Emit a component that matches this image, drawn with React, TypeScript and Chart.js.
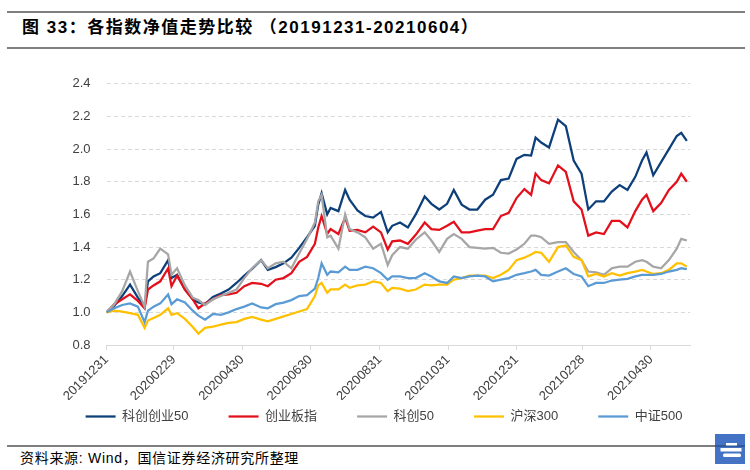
import React, { useEffect, useRef } from "react";
import { Chart, registerables } from "chart.js";

Chart.register(...registerables);

// Day offsets from 2019-12-31
const days = [0, 7, 14, 21, 28, 34, 37, 42, 48, 55, 58, 63, 70, 77, 82, 88, 95, 102, 109, 116, 123, 130, 138, 144, 151, 158, 165, 172, 179, 186, 189, 192, 197, 200, 207, 213, 217, 224, 231, 238, 245, 251, 255, 262, 269, 276, 284, 290, 297, 304, 310, 317, 324, 331, 338, 345, 352, 359, 366, 373, 379, 383, 388, 395, 403, 410, 417, 424, 430, 437, 444, 451, 458, 465, 472, 478, 482, 488, 495, 502, 509, 513, 518];

const kcCy50 = [1.00, 1.04, 1.10, 1.17, 1.09, 1.035, 1.19, 1.22, 1.24, 1.32, 1.21, 1.23, 1.14, 1.08, 1.06, 1.05, 1.095, 1.115, 1.14, 1.18, 1.225, 1.266, 1.32, 1.26, 1.277, 1.30, 1.335, 1.395, 1.46, 1.53, 1.66, 1.73, 1.60, 1.64, 1.62, 1.75, 1.69, 1.625, 1.59, 1.58, 1.615, 1.49, 1.53, 1.55, 1.52, 1.60, 1.71, 1.665, 1.63, 1.665, 1.75, 1.66, 1.63, 1.63, 1.69, 1.72, 1.81, 1.82, 1.94, 1.965, 1.96, 2.07, 2.04, 2.01, 2.18, 2.14, 1.93, 1.85, 1.63, 1.68, 1.68, 1.74, 1.78, 1.75, 1.83, 1.93, 1.98, 1.84, 1.92, 2.00, 2.08, 2.10, 2.05];

const cybz = [1.00, 1.05, 1.08, 1.11, 1.07, 1.025, 1.14, 1.165, 1.19, 1.27, 1.16, 1.225, 1.14, 1.08, 1.025, 1.055, 1.08, 1.105, 1.11, 1.12, 1.16, 1.18, 1.175, 1.16, 1.20, 1.21, 1.24, 1.31, 1.34, 1.42, 1.52, 1.59, 1.48, 1.51, 1.48, 1.58, 1.50, 1.505, 1.49, 1.525, 1.49, 1.385, 1.435, 1.44, 1.42, 1.475, 1.55, 1.51, 1.505, 1.53, 1.555, 1.49, 1.49, 1.50, 1.51, 1.51, 1.59, 1.61, 1.70, 1.755, 1.72, 1.85, 1.81, 1.79, 1.90, 1.86, 1.68, 1.63, 1.47, 1.49, 1.48, 1.56, 1.56, 1.52, 1.62, 1.69, 1.72, 1.62, 1.67, 1.75, 1.80, 1.85, 1.80];

const kc50 = [1.00, 1.05, 1.13, 1.25, 1.13, 1.035, 1.31, 1.33, 1.39, 1.355, 1.23, 1.27, 1.165, 1.09, 1.075, 1.045, 1.08, 1.10, 1.12, 1.14, 1.21, 1.27, 1.32, 1.27, 1.30, 1.31, 1.27, 1.36, 1.45, 1.55, 1.68, 1.72, 1.46, 1.47, 1.39, 1.60, 1.51, 1.49, 1.46, 1.39, 1.42, 1.29, 1.35, 1.40, 1.39, 1.445, 1.49, 1.44, 1.37, 1.45, 1.48, 1.45, 1.40, 1.395, 1.39, 1.395, 1.365, 1.36, 1.385, 1.42, 1.47, 1.47, 1.46, 1.42, 1.43, 1.43, 1.37, 1.32, 1.25, 1.245, 1.23, 1.27, 1.28, 1.28, 1.31, 1.32, 1.31, 1.28, 1.27, 1.32, 1.39, 1.45, 1.44];

const hs300 = [1.00, 1.01, 1.005, 0.995, 0.985, 0.905, 0.95, 0.965, 0.985, 1.025, 0.985, 0.995, 0.96, 0.91, 0.87, 0.905, 0.912, 0.925, 0.935, 0.94, 0.96, 0.972, 0.955, 0.945, 0.96, 0.975, 0.99, 1.005, 1.02, 1.10, 1.165, 1.18, 1.12, 1.14, 1.14, 1.17, 1.15, 1.165, 1.17, 1.19, 1.18, 1.13, 1.15, 1.145, 1.13, 1.14, 1.17, 1.165, 1.17, 1.17, 1.20, 1.21, 1.225, 1.225, 1.225, 1.21, 1.23, 1.26, 1.32, 1.335, 1.355, 1.37, 1.365, 1.31, 1.40, 1.41, 1.34, 1.32, 1.22, 1.235, 1.22, 1.24, 1.225, 1.24, 1.25, 1.26, 1.25, 1.235, 1.24, 1.26, 1.30, 1.30, 1.28];

const zz500 = [1.00, 1.025, 1.045, 1.055, 1.035, 0.94, 1.01, 1.035, 1.055, 1.11, 1.05, 1.08, 1.06, 1.01, 0.98, 0.955, 0.99, 0.985, 1.00, 1.02, 1.035, 1.055, 1.03, 1.025, 1.05, 1.06, 1.075, 1.10, 1.105, 1.145, 1.21, 1.30, 1.23, 1.25, 1.245, 1.28, 1.26, 1.26, 1.28, 1.27, 1.24, 1.20, 1.22, 1.22, 1.21, 1.21, 1.24, 1.22, 1.19, 1.18, 1.22, 1.21, 1.22, 1.225, 1.22, 1.19, 1.20, 1.21, 1.23, 1.24, 1.25, 1.26, 1.23, 1.225, 1.25, 1.27, 1.235, 1.22, 1.16, 1.18, 1.18, 1.195, 1.20, 1.205, 1.22, 1.23, 1.23, 1.23, 1.235, 1.25, 1.26, 1.27, 1.265];

const seriesNames = ["科创创业50", "创业板指", "科创50", "沪深300", "中证500"];
const seriesValues = [kcCy50, cybz, kc50, hs300, zz500];
const seriesColors = ["#0d3f7a", "#e3101b", "#a6a6a6", "#ffc000", "#5b9bd5"];

const tickDays = [0, 60, 121, 182, 244, 305, 366, 425, 486];
const tickLabels = ["20191231", "20200229", "20200430", "20200630", "20200831", "20201031", "20201231", "20210228", "20210430"];

const FONT = '"Liberation Sans", Arial, "Noto Sans CJK SC", sans-serif';

// legend row target (canvas coords) — moves the legend box up to sit under the rotated labels
const LEGEND_TOP = 310;

const legendShift = {
  id: "legendShift",
  afterLayout(chart: any) {
    const lg = chart.legend;
    if (!lg) return;
    const dy = LEGEND_TOP - lg.top;
    lg.top += dy;
    lg.bottom += dy;
  },
};

function App() {
  const canvasRef = useRef<HTMLCanvasElement | null>(null);

  useEffect(() => {
    const canvas = canvasRef.current;
    if (!canvas) return;
    const datasets = seriesValues.map((vals, i) => ({
      label: seriesNames[i],
      data: days.map((d, j) => ({ x: d, y: vals[j] })),
      borderColor: seriesColors[i],
      backgroundColor: seriesColors[i],
      borderWidth: 2.25,
      pointRadius: 0,
      tension: 0,
      order: -i,
      yAxisID: "y",
    }));
    const chart = new Chart(canvas, {
      type: "line",
      data: { datasets },
      plugins: [legendShift],
      options: {
        animation: false,
        responsive: false,
        devicePixelRatio: 1,
        events: [],
        layout: { padding: { left: 18, right: 0, top: 15, bottom: 0 } },
        plugins: {
          tooltip: { enabled: false },
          legend: {
            position: "bottom",
            labels: {
              usePointStyle: true,
              pointStyle: "line",
              pointStyleWidth: 30,
              padding: 40,
              color: "#404040",
              font: { family: FONT, size: 13 },
              sort: (a: any, b: any) => a.datasetIndex - b.datasetIndex,
            },
          },
        },
        scales: {
          x: {
            type: "linear",
            min: 0,
            max: 521,
            afterFit: (s: any) => {
              s.height = 55;
            },
            afterBuildTicks: (s: any) => {
              s.ticks = tickDays.map((v) => ({ value: v }));
            },
            ticks: {
              autoSkip: false,
              minRotation: 45,
              maxRotation: 45,
              padding: 2,
              color: "#404040",
              font: { family: FONT, size: 13 },
              callback: (v: any) => {
                const k = tickDays.indexOf(Number(v));
                return k >= 0 ? tickLabels[k] : "";
              },
            },
            grid: { display: true, drawOnChartArea: false, drawTicks: true, tickLength: 5, color: "#d9d9d9" },
            border: { display: true, color: "#d9d9d9", width: 1 },
          },
          y: {
            min: 0.8,
            max: 2.4,
            afterFit: (s: any) => {
              s.width = 88.5;
            },
            ticks: {
              stepSize: 0.2,
              padding: 16,
              color: "#404040",
              font: { family: FONT, size: 13 },
              callback: (v: any) => Number(v).toFixed(1),
            },
            grid: { color: "#d9d9d9", drawTicks: false, lineWidth: 1 },
            border: { display: false, dash: [4, 3] },
          },
          y2: {
            position: "right",
            display: true,
            afterFit: (s: any) => {
              s.width = 59.8;
            },
            ticks: { display: false },
            grid: { display: false },
            border: { display: false },
          },
        },
      },
    } as any);
    return () => chart.destroy();
  }, []);

  return (
    <div style={{ position: "absolute", left: 0, top: 0, width: 750, height: 470, background: "#fff", overflow: "hidden" }}>
      <div style={{ position: "absolute", left: 7, top: 11, width: 738, height: 2, background: "#7f7f7f" }} />
      <div
        style={{
          position: "absolute",
          left: 22,
          top: 18,
          fontFamily: FONT,
          fontSize: 17,
          fontWeight: "bold",
          lineHeight: "20px",
          letterSpacing: 1.5,
          color: "#000",
          whiteSpace: "nowrap",
        }}
      >
        图 33：各指数净值走势比较 （20191231-20210604）
      </div>
      <div style={{ position: "absolute", left: 7, top: 47, width: 738, height: 2, background: "#7f7f7f" }} />
      <div style={{ position: "absolute", left: 7, top: 445, width: 708, height: 2, background: "#7f7f7f" }} />
      <div
        style={{
          position: "absolute",
          left: 20,
          top: 450,
          fontFamily: FONT,
          fontSize: 14,
          lineHeight: "16px",
          letterSpacing: 0.7,
          color: "#000",
          whiteSpace: "nowrap",
        }}
      >
        资料来源: Wind，国信证券经济研究所整理
      </div>
      <svg style={{ position: "absolute", left: 715, top: 434 }} width={30} height={30} viewBox="0 0 30 30">
        <rect x={0} y={0} width={30} height={30} fill="#4472c4" />
        <rect x={0} y={11.5} width={30} height={1} fill="#1f3b70" />
        <rect x={11} y={9} width={11} height={2.5} fill="#fff" />
        <rect x={5.5} y={14} width={21} height={3.5} fill="#fff" />
        <rect x={8} y={19.5} width={18} height={3.5} rx={1.5} fill="#fff" />
      </svg>
      <canvas ref={canvasRef} width={750} height={403} style={{ position: "absolute", left: 0, top: 60, width: 750, height: 403 }} />
    </div>
  );
}

export default App;
